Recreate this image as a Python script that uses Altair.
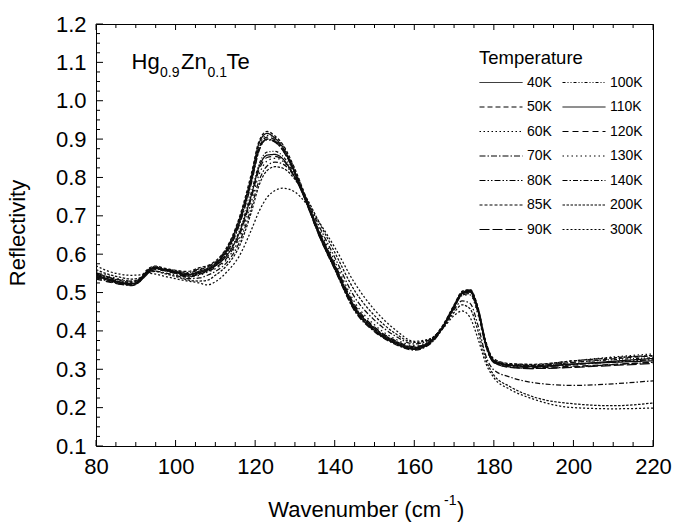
import altair as alt
import pandas as pd

FONT = "Liberation Sans"

# ---------------- data ----------------
wavenumber = [80, 83, 86, 89, 91, 93, 95, 97, 100, 103, 106, 108, 110, 113, 116, 119, 121, 123,
              125, 127, 130, 133, 136, 140, 145, 150, 155, 160, 164, 167, 170, 172, 174, 176,
              178, 180, 184, 190, 200, 210, 220]

r_40K = [0.545, 0.536, 0.527, 0.522, 0.534, 0.558, 0.566, 0.561, 0.553, 0.546, 0.556, 0.563, 0.575, 0.615,
         0.690, 0.800, 0.890, 0.915, 0.902, 0.878, 0.815, 0.735, 0.655, 0.565, 0.458, 0.402, 0.370, 0.353,
         0.370, 0.408, 0.465, 0.500, 0.506, 0.458, 0.368, 0.323, 0.311, 0.307, 0.313, 0.321, 0.328]
r_50K = [0.540, 0.532, 0.524, 0.520, 0.530, 0.555, 0.564, 0.560, 0.555, 0.550, 0.560, 0.566, 0.578, 0.612,
         0.682, 0.790, 0.878, 0.905, 0.898, 0.875, 0.812, 0.733, 0.652, 0.562, 0.455, 0.400, 0.368, 0.352,
         0.368, 0.406, 0.462, 0.498, 0.504, 0.455, 0.365, 0.322, 0.312, 0.310, 0.318, 0.327, 0.335]
r_60K = [0.552, 0.540, 0.530, 0.526, 0.536, 0.560, 0.568, 0.563, 0.557, 0.548, 0.552, 0.560, 0.572, 0.608,
         0.680, 0.792, 0.882, 0.910, 0.905, 0.882, 0.820, 0.740, 0.658, 0.568, 0.460, 0.404, 0.372, 0.356,
         0.372, 0.410, 0.466, 0.502, 0.507, 0.460, 0.370, 0.326, 0.314, 0.312, 0.322, 0.332, 0.340]
r_70K = [0.538, 0.530, 0.522, 0.518, 0.528, 0.552, 0.562, 0.558, 0.550, 0.540, 0.548, 0.556, 0.570, 0.605,
         0.675, 0.782, 0.870, 0.900, 0.895, 0.872, 0.812, 0.732, 0.650, 0.560, 0.452, 0.398, 0.366, 0.350,
         0.366, 0.404, 0.460, 0.496, 0.503, 0.455, 0.364, 0.318, 0.306, 0.302, 0.306, 0.312, 0.318]
r_80K = [0.548, 0.538, 0.528, 0.524, 0.532, 0.556, 0.565, 0.562, 0.556, 0.552, 0.562, 0.568, 0.580, 0.618,
         0.688, 0.795, 0.878, 0.898, 0.892, 0.870, 0.810, 0.730, 0.650, 0.562, 0.455, 0.401, 0.369, 0.354,
         0.370, 0.407, 0.463, 0.499, 0.505, 0.457, 0.367, 0.321, 0.309, 0.306, 0.312, 0.319, 0.325]
r_85K = [0.550, 0.541, 0.531, 0.527, 0.537, 0.561, 0.569, 0.564, 0.558, 0.555, 0.565, 0.570, 0.582, 0.620,
         0.695, 0.808, 0.895, 0.920, 0.908, 0.885, 0.822, 0.742, 0.660, 0.570, 0.462, 0.406, 0.373, 0.357,
         0.374, 0.412, 0.468, 0.503, 0.508, 0.462, 0.372, 0.327, 0.315, 0.313, 0.322, 0.330, 0.336]
r_90K = [0.542, 0.533, 0.525, 0.520, 0.530, 0.553, 0.563, 0.559, 0.551, 0.543, 0.550, 0.558, 0.572, 0.610,
         0.680, 0.788, 0.872, 0.900, 0.893, 0.870, 0.810, 0.732, 0.652, 0.563, 0.456, 0.400, 0.368, 0.352,
         0.368, 0.405, 0.461, 0.497, 0.503, 0.454, 0.363, 0.317, 0.305, 0.302, 0.305, 0.310, 0.315]
r_100K = [0.540, 0.532, 0.524, 0.522, 0.530, 0.552, 0.563, 0.560, 0.553, 0.545, 0.552, 0.560, 0.570, 0.600,
          0.660, 0.760, 0.835, 0.866, 0.868, 0.855, 0.805, 0.735, 0.660, 0.572, 0.465, 0.408, 0.375, 0.358,
          0.374, 0.410, 0.465, 0.498, 0.502, 0.455, 0.366, 0.322, 0.311, 0.310, 0.318, 0.325, 0.330]
r_110K = [0.545, 0.535, 0.527, 0.523, 0.531, 0.553, 0.563, 0.560, 0.554, 0.547, 0.553, 0.560, 0.570, 0.598,
          0.655, 0.752, 0.828, 0.858, 0.860, 0.848, 0.800, 0.732, 0.658, 0.570, 0.463, 0.406, 0.373, 0.356,
          0.372, 0.408, 0.463, 0.497, 0.501, 0.452, 0.363, 0.320, 0.310, 0.308, 0.314, 0.318, 0.322]
r_120K = [0.535, 0.528, 0.522, 0.520, 0.528, 0.549, 0.560, 0.557, 0.550, 0.542, 0.548, 0.555, 0.565, 0.592,
          0.648, 0.745, 0.820, 0.852, 0.855, 0.845, 0.800, 0.735, 0.662, 0.575, 0.468, 0.410, 0.376, 0.359,
          0.373, 0.408, 0.460, 0.493, 0.497, 0.448, 0.360, 0.318, 0.307, 0.304, 0.308, 0.313, 0.318]
r_130K = [0.555, 0.544, 0.535, 0.530, 0.536, 0.555, 0.562, 0.558, 0.550, 0.540, 0.545, 0.553, 0.562, 0.588,
          0.640, 0.735, 0.808, 0.843, 0.850, 0.842, 0.800, 0.738, 0.668, 0.582, 0.475, 0.416, 0.380, 0.362,
          0.376, 0.410, 0.462, 0.492, 0.494, 0.443, 0.358, 0.320, 0.312, 0.312, 0.322, 0.330, 0.335]
r_140K = [0.548, 0.540, 0.533, 0.530, 0.534, 0.550, 0.556, 0.552, 0.545, 0.536, 0.538, 0.545, 0.555, 0.580,
          0.630, 0.720, 0.792, 0.830, 0.840, 0.835, 0.800, 0.742, 0.675, 0.592, 0.488, 0.428, 0.388, 0.366,
          0.378, 0.408, 0.455, 0.478, 0.472, 0.415, 0.335, 0.298, 0.280, 0.265, 0.258, 0.262, 0.270]
r_200K = [0.560, 0.548, 0.540, 0.535, 0.538, 0.552, 0.555, 0.550, 0.542, 0.533, 0.530, 0.532, 0.545, 0.572,
          0.620, 0.708, 0.780, 0.818, 0.828, 0.824, 0.795, 0.745, 0.685, 0.605, 0.505, 0.440, 0.395, 0.370,
          0.378, 0.405, 0.448, 0.468, 0.458, 0.400, 0.325, 0.285, 0.255, 0.228, 0.210, 0.205, 0.212]
r_300K = [0.570, 0.556, 0.548, 0.545, 0.546, 0.550, 0.548, 0.543, 0.536, 0.530, 0.525, 0.520, 0.528, 0.555,
          0.595, 0.662, 0.712, 0.748, 0.766, 0.772, 0.762, 0.730, 0.685, 0.618, 0.525, 0.455, 0.405, 0.373,
          0.380, 0.404, 0.440, 0.452, 0.435, 0.380, 0.315, 0.278, 0.248, 0.222, 0.200, 0.197, 0.199]

temperatures = ["40K", "50K", "60K", "70K", "80K", "85K", "90K",
                "100K", "110K", "120K", "130K", "140K", "200K", "300K"]
series = [r_40K, r_50K, r_60K, r_70K, r_80K, r_85K, r_90K,
          r_100K, r_110K, r_120K, r_130K, r_140K, r_200K, r_300K]

dash_styles = {
    "40K": [1, 0], "50K": [5, 3], "60K": [1.5, 2.5], "70K": [6, 2, 1.5, 2],
    "80K": [6, 2, 1.5, 2, 1.5, 2], "85K": [3, 2], "90K": [10, 3],
    "100K": [3, 2, 1, 2, 1, 2], "110K": [1, 0], "120K": [6, 4], "130K": [1.5, 3],
    "140K": [5, 2, 1.5, 2], "200K": [2.5, 1.5], "300K": [2, 2],
}

x_major = [80, 100, 120, 140, 160, 180, 200, 220]
x_minor = [v for v in range(80, 221, 5) if v not in x_major]
y_major = [0.1, 0.2, 0.3, 0.4, 0.5, 0.6, 0.7, 0.8, 0.9, 1.0, 1.1, 1.2]
y_minor = [round(0.1 + 0.025 * i, 3) for i in range(45) if i % 4 != 0]

rows = []
for t, vals in zip(temperatures, series):
    assert len(vals) == len(wavenumber), t
    for x, y in zip(wavenumber, vals):
        rows.append({"wavenumber": x, "reflectivity": y, "temperature": t})
df = pd.DataFrame(rows)

# ---------------- chart ----------------
W, H = 557, 422
xscale = alt.Scale(domain=[80, 220], nice=False, zero=False)
yscale = alt.Scale(domain=[0.1, 1.2], nice=False, zero=False)

x_axis = alt.Axis(values=x_major, title=None, ticks=False, tickSize=0, domain=False, grid=False,
                  labelFontSize=22, labelPadding=10, labelFont=FONT, labelColor="black", format="d",
                  labelFlush=False, labelOverlap=False)
y_axis = alt.Axis(values=y_major, title=None, ticks=False, tickSize=0, domain=False, grid=False,
                  labelFontSize=22, labelPadding=10, labelFont=FONT, labelColor="black", format=".1f",
                  labelFlush=False, labelOverlap=False)

lines = alt.Chart(df).mark_line(strokeWidth=1.25, color="#0d0d0d", clip=True, interpolate="monotone").encode(
    x=alt.X("wavenumber:Q", scale=xscale, axis=x_axis),
    y=alt.Y("reflectivity:Q", scale=yscale, axis=y_axis),
    strokeDash=alt.StrokeDash(
        "temperature:N",
        sort=temperatures,
        scale=alt.Scale(domain=temperatures, range=[dash_styles[t] for t in temperatures]),
        legend=alt.Legend(title="Temperature", orient="none", legendX=383, legendY=25, columns=2,
                          symbolType="stroke", symbolSize=1849, symbolStrokeWidth=1,
                          symbolStrokeColor="black", clipHeight=14, rowPadding=10.5,
                          columnPadding=10, labelOffset=4, labelFontSize=14, labelFont=FONT,
                          labelColor="black", titleFont=FONT, titleFontSize=18.5,
                          titleFontWeight="normal", titleColor="black", titlePadding=8, padding=0),
    ),
    detail="temperature:N",
)

xmaj_df = pd.DataFrame({"wavenumber": x_major})
xmin_df = pd.DataFrame({"wavenumber": x_minor})
ymaj_df = pd.DataFrame({"reflectivity": y_major})
ymin_df = pd.DataFrame({"reflectivity": y_minor})

def xticks(d, y0, y1):
    return alt.Chart(d).mark_rule(color="black", strokeWidth=1).encode(
        x=alt.X("wavenumber:Q", scale=xscale, axis=x_axis), y=alt.value(y0), y2=alt.value(y1))

def yticks(d, length):
    return alt.Chart(d).mark_rule(color="black", strokeWidth=1).encode(
        y=alt.Y("reflectivity:Q", scale=yscale, axis=y_axis), x=alt.value(0), x2=alt.value(length))

ticks = [
    xticks(xmaj_df, H, H - 6), xticks(xmin_df, H, H - 4),
    xticks(xmaj_df, 0, 6), xticks(xmin_df, 0, 4),
    yticks(ymaj_df, 7), yticks(ymin_df, 4),
]

one = pd.DataFrame({"a": [0]})

def label(txt, x, y, size, align="left", angle=0):
    kw = dict(align=align, baseline="alphabetic", fontSize=size, font=FONT, color="black")
    if angle:
        kw["angle"] = angle
    return alt.Chart(one).mark_text(**kw).encode(
        x=alt.value(x), y=alt.value(y), text=alt.value(txt))

texts = [
    label("Hg", 35.5, 45.3, 22), label("0.9", 64, 52.7, 14),
    label("Zn", 85, 45.3, 22), label("0.1", 111.5, 52.7, 14),
    label("Te", 130.5, 45.3, 22),
    label("Wavenumber (cm", 345, 493, 22, align="right"),
    label("-1", 348, 481, 14), label(")", 361, 493, 22),
    label("Reflectivity", -70.7, 209, 22, align="center", angle=270),
]

chart = alt.layer(lines, *ticks, *texts).properties(
    width=W, height=H,
    padding={"left": 96, "top": 24, "right": 21, "bottom": 78},
    autosize=alt.AutoSizeParams(type="none"),
    background="white",
).configure(font=FONT).configure_view(stroke="black", strokeWidth=1)

chart.save("out.html", embed_options={"renderer": "svg", "actions": False})
